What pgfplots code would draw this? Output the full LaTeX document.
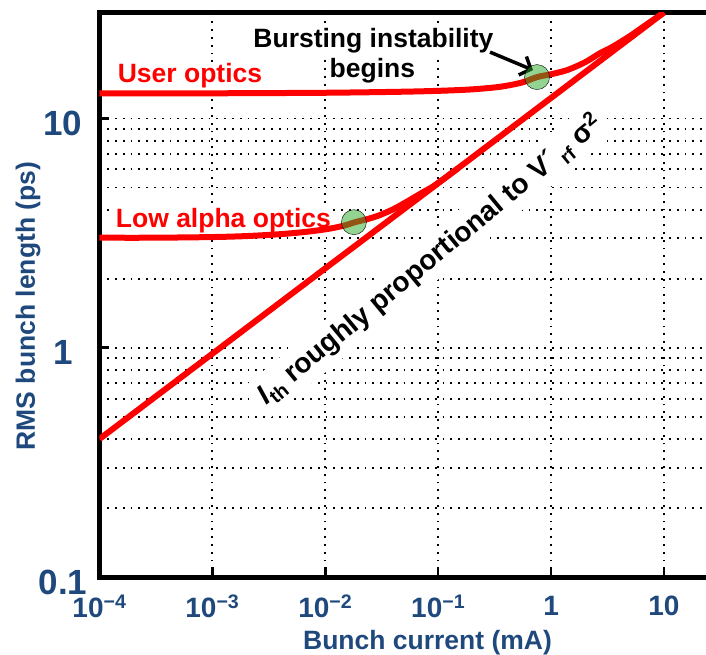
\documentclass[border=0pt]{standalone}
\usepackage{pgfplots}
\pgfplotsset{compat=1.18}
\usepackage{fontspec}
\setmainfont{Liberation Sans}
\usetikzlibrary{arrows.meta}
\definecolor{lblblue}{RGB}{31,73,125}
\definecolor{dotgreen}{RGB}{40,170,40}
\begin{document}
\begin{tikzpicture}
\path[use as bounding box] (0,0) rectangle (706pt,655pt);
\clip (0,0) rectangle (706pt,655pt);
\begin{axis}[
  at={(99.5pt,78pt)}, anchor=south west,
  scale only axis, width=615.5pt, height=564.5pt,
  xmode=log, ymode=log,
  xmin=1e-4, xmax=28.3, ymin=0.1, ymax=29,
  axis line style={line width=5pt, black},
  xtick={1e-4,1e-3,1e-2,1e-1,1,10},
  xticklabels={10\textsuperscript{−4},10\textsuperscript{−3},10\textsuperscript{−2},10\textsuperscript{−1},1,10},
  ytick={0.1,1,10},
  yticklabels={0.1,1,10},
  tick pos=left,
  major tick length=10pt,
  minor tick length=0pt,
  major tick style={line width=2.5pt, black},
  xmajorgrids, ymajorgrids, yminorgrids,
  major grid style={black, line width=1.8pt, dash pattern=on 1.8pt off 6pt},
  minor grid style={black, line width=1.8pt, dash pattern=on 1.8pt off 6pt},
  xticklabel style={font=\fontsize{28}{30}\selectfont\bfseries, text=lblblue, anchor=center, yshift=-29pt},
  yticklabel style={font=\fontsize{35}{38}\selectfont\bfseries, text=lblblue, anchor=center, xshift=-36.5pt, yshift=-5pt},
  xlabel={Bunch current (mA)},
  xlabel style={font=\fontsize{26.5}{28}\selectfont\bfseries, text=lblblue, at={(axis description cs:0.533,0)}, anchor=base, yshift=-72pt},
  ylabel={RMS bunch length (ps)},
  ylabel style={font=\fontsize{26.5}{28}\selectfont\bfseries, text=lblblue, at={(axis description cs:-0.1162,0.48)}, anchor=center},
]
% annotation text with white background (drawn under the curves)
\node[rotate=39.5, fill=white, inner sep=6pt, font=\fontsize{28}{30}\selectfont\bfseries] at (axis cs:0.0842,2.413)
  {\textit{I}\textsubscript{th} roughly proportional to V´\,\textsubscript{rf} σ\textsuperscript{2}};
\node[anchor=base west, fill=white, inner sep=1pt, text=red, font=\fontsize{26.5}{28}\selectfont\bfseries] at (axis cs:1.419e-4,14.41) {User optics};
\node[anchor=base west, fill=white, inner sep=1pt, text=red, font=\fontsize{26.5}{28}\selectfont\bfseries] at (axis cs:1.364e-4,3.36) {Low alpha optics};
\node[anchor=base, fill=white, inner sep=1pt, font=\fontsize{26.5}{28}\selectfont\bfseries] at (axis cs:0.02669,20.49) {Bursting instability};
\node[anchor=base, fill=white, inner sep=1pt, font=\fontsize{26.5}{28}\selectfont\bfseries] at (axis cs:0.02612,15.16) {begins};

% threshold line
\addplot[red, line width=6pt] coordinates {
  (1e-4,0.40) (1e-3,0.942) (1e-2,2.22) (1e-1,5.22) (1,12.3) (10,29.0)
};
% low alpha optics
\addplot[red, line width=6pt, smooth] coordinates {
  (1e-4,3.02) (3e-4,3.02) (1e-3,3.04) (2e-3,3.07) (4e-3,3.13) (7e-3,3.21)
  (0.011,3.31) (0.015,3.42) (0.018,3.52) (0.024,3.65) (0.030,3.78)
  (0.040,4.02) (0.050,4.27) (0.060,4.50) (0.075,4.80) (0.09,5.05)
  (0.12,5.59) (0.15,6.07)
};
% user optics
\addplot[red, line width=6pt, smooth] coordinates {
  (1e-4,12.87) (1e-3,12.88) (0.01,12.95) (0.046,13.08) (0.104,13.21)
  (0.2,13.40) (0.353,13.75) (0.55,14.35) (0.751,15.16) (1.0,15.6)
  (1.387,16.26) (2.0,17.6) (2.72,19.28) (3.47,20.49) (5.0,22.9) (7.0,25.7) (10,29.0)
};
% onset of bursting
\addplot[only marks, mark=*, mark size=12.5pt, mark options={draw=none, fill=dotgreen, fill opacity=0.5}] coordinates {
  (0.01793,3.53) (0.751,15.16)
};
\draw[line width=3.5pt, -{Straight Barb[length=9pt,width=20pt]}] (axis cs:0.288,19.48) -- (axis cs:0.692,16.26);
\end{axis}
\end{tikzpicture}
\end{document}
